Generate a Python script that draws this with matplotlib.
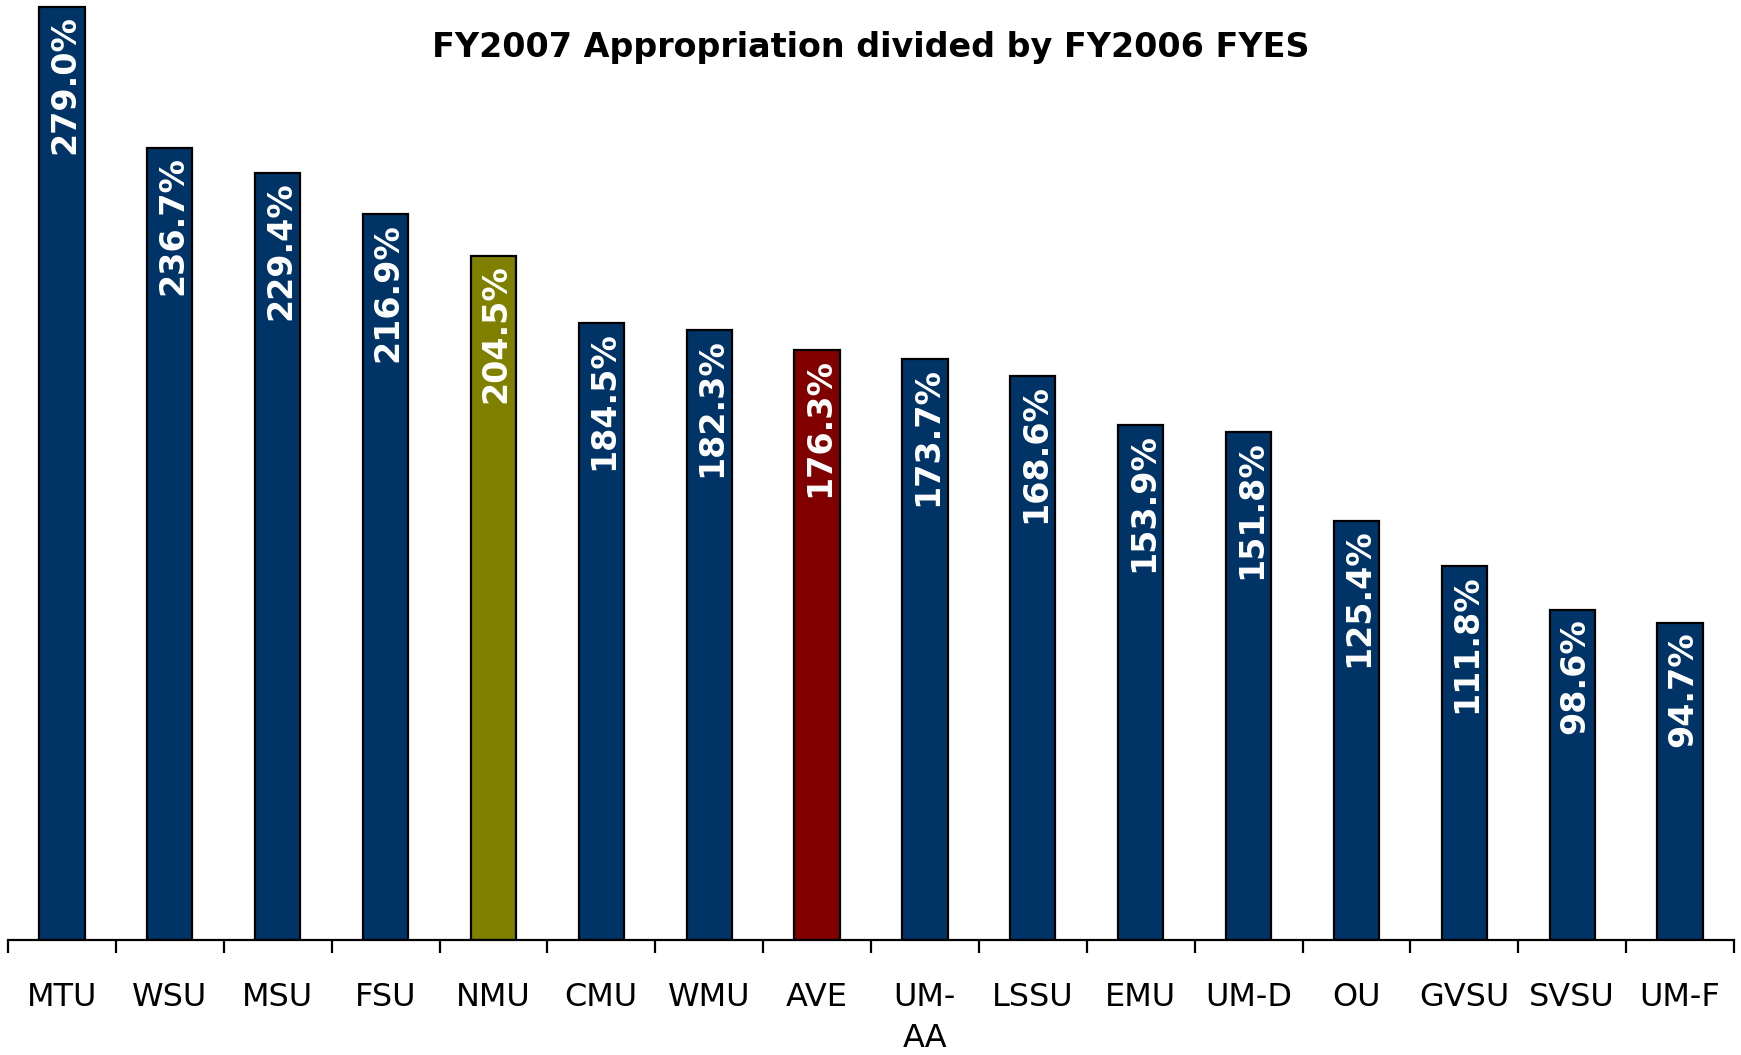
import matplotlib
matplotlib.use("Agg")
import matplotlib.pyplot as plt
import numpy as np

categories = ["MTU", "WSU", "MSU", "FSU", "NMU", "CMU", "WMU", "AVE", "UM-\nAA",
              "LSSU", "EMU", "UM-D", "OU", "GVSU", "SVSU", "UM-F"]
values = [279.0, 236.7, 229.4, 216.9, 204.5, 184.5, 182.3, 176.3, 173.7,
          168.6, 153.9, 151.8, 125.4, 111.8, 98.6, 94.7]
labels = ["279.0%", "236.7%", "229.4%", "216.9%", "204.5%", "184.5%", "182.3%", "176.3%",
          "173.7%", "168.6%", "153.9%", "151.8%", "125.4%", "111.8%", "98.6%", "94.7%"]
navy, olive, maroon = "#003366", "#808000", "#800000"
colors = [navy] * 16
colors[4] = olive
colors[7] = maroon

W, H = 1741, 1055
fig = plt.figure(figsize=(W / 100, H / 100), dpi=100)
ax = fig.add_axes([8 / W, 1 - 940 / H, (1734 - 8) / W, (940 - 3.4) / H])

x = np.arange(len(categories))
bars = ax.bar(x, values, width=0.42, color=colors, edgecolor="black", linewidth=1.6, zorder=2)

ax.set_xlim(-0.5, len(categories) - 0.5)
ax.set_ylim(0, 280)
for s in ["left", "top", "right"]:
    ax.spines[s].set_visible(False)
ax.spines["bottom"].set_linewidth(1.6)
ax.set_yticks([])

ax.set_xticks(np.arange(-0.5, len(categories), 1.0))
ax.set_xticklabels([])
ax.tick_params(axis="x", which="major", length=9, width=1.6, direction="out")
ax.set_xticks(x, minor=True)
ax.set_xticklabels(categories, minor=True, fontsize=23, family="DejaVu Sans",
                   linespacing=1.45)
ax.tick_params(axis="x", which="minor", length=0, pad=30)

for xi, v, lab in zip(x, values, labels):
    ax.annotate(lab, xy=(xi, v), xytext=(2, -6), textcoords="offset points",
                rotation=90, ha="center", va="top", color="white",
                fontsize=24, fontweight="bold", family="DejaVu Sans")

fig.text(871 / W, 1 - 48 / H, "FY2007 Appropriation divided by FY2006 FYES",
         ha="center", va="center", fontsize=24, fontweight="bold", family="DejaVu Sans")

fig.savefig("out.png", dpi=100)
